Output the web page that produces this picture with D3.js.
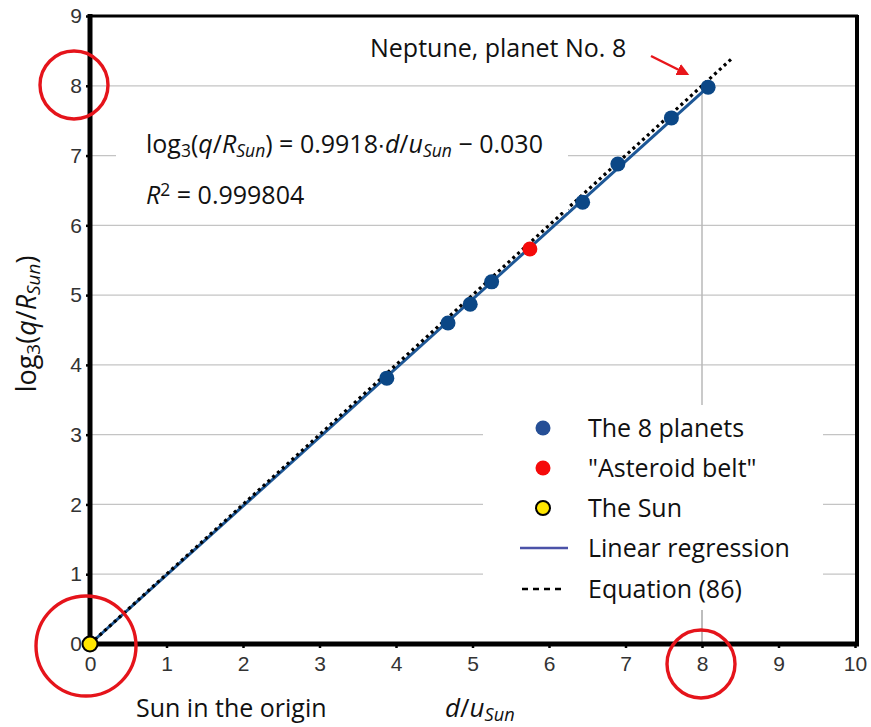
<!DOCTYPE html>
<html><head><meta charset="utf-8">
<script src="https://cdn.jsdelivr.net/npm/d3@7"></script>
<style>body{margin:0;background:#fff}svg{display:block}</style>
</head><body>
<script>
const planetX = [3.88, 4.68, 4.97, 5.25, 6.44, 6.90, 7.60, 8.08];
const planetY = [3.81, 4.60, 4.87, 5.19, 6.33, 6.88, 7.54, 7.98];
const asteroidX = [5.75];
const asteroidY = [5.66];
const sunX = [0];
const sunY = [0];
const regSlope = 0.9918, regIntercept = -0.030;
const eqLineX = [0, 8.40];
const xTicks = [0,1,2,3,4,5,6,7,8,9,10];
const yTicks = [0,1,2,3,4,5,6,7,8,9];
const legendLabels = ["The 8 planets", "\"Asteroid belt\"", "The Sun", "Linear regression", "Equation (86)"];

const W = 871, H = 727;
const svg = d3.select("body").append("svg").attr("width", W).attr("height", H);
const x = d3.scaleLinear().domain([0, 10]).range([90, 855]);
const y = d3.scaleLinear().domain([0, 9]).range([644, 16]);
const textFont = "'Open Sans', 'Noto Sans', sans-serif";
const tickFont = "'Liberation Sans', Arial, sans-serif";
const FS = 25;

// gridlines
svg.append("g").selectAll("line").data(yTicks.slice(1)).join("line")
  .attr("x1", x(0)).attr("x2", 857).attr("y1", d => y(d)).attr("y2", d => y(d))
  .attr("stroke", "#c4c4c4").attr("stroke-width", 1.3);
// drop line at Neptune
svg.append("line").attr("x1", x(8)).attr("x2", x(8)).attr("y1", y(planetY[7])).attr("y2", y(0))
  .attr("stroke", "#b8b8b8").attr("stroke-width", 1.5);

// regression
svg.append("line").attr("x1", x(0)).attr("y1", y(0))
  .attr("x2", x(planetX[7])).attr("y2", y(regSlope*planetX[7] + regIntercept))
  .attr("stroke", "#1d5796").attr("stroke-width", 3);
// equation line
svg.append("line").attr("x1", x(eqLineX[0])).attr("y1", y(eqLineX[0]))
  .attr("x2", x(eqLineX[1])).attr("y2", y(eqLineX[1]))
  .attr("stroke", "#000").attr("stroke-width", 3.2).attr("stroke-dasharray", "3,3.5");

// white boxes behind equation text & legend
svg.append("rect").attr("x", 116).attr("y", 112).attr("width", 452).attr("height", 100).attr("fill", "#fff");
svg.append("rect").attr("x", 483).attr("y", 405).attr("width", 340).attr("height", 205).attr("fill", "#fff");
svg.append("line").attr("x1", x(8)).attr("x2", x(8)).attr("y1", 610).attr("y2", y(0))
  .attr("stroke", "#b8b8b8").attr("stroke-width", 1.5);

// points
svg.append("g").selectAll("circle").data(planetX.map((d,i)=>[d, planetY[i]])).join("circle")
  .attr("cx", d => x(d[0])).attr("cy", d => y(d[1])).attr("r", 7.5).attr("fill", "#0b4786");
svg.append("g").selectAll("circle").data(asteroidX.map((d,i)=>[d, asteroidY[i]])).join("circle")
  .attr("cx", d => x(d[0])).attr("cy", d => y(d[1])).attr("r", 7.5).attr("fill", "#f50a0a");

// axes
const ya = svg.append("g").attr("transform", `translate(${x(0)},0)`)
  .call(d3.axisLeft(y).tickValues(yTicks).tickSize(4).tickPadding(4).tickFormat(d3.format("d")));
const xa = svg.append("g").attr("transform", `translate(0,${y(0)})`)
  .call(d3.axisBottom(x).tickValues(xTicks).tickSize(4).tickPadding(8).tickFormat(d3.format("d")));
[ya, xa].forEach(a => {
  a.select(".domain").remove();
  a.selectAll(".tick line").attr("stroke", "#000").attr("stroke-width", 2.5);
  a.selectAll(".tick text").attr("font-family", tickFont).attr("font-size", 21).attr("fill", "#333");
});
// frame
svg.append("line").attr("x1", x(0)).attr("x2", 858).attr("y1", 16).attr("y2", 16).attr("stroke", "#000").attr("stroke-width", 3);
svg.append("line").attr("x1", 857).attr("x2", 857).attr("y1", 15).attr("y2", 645).attr("stroke", "#000").attr("stroke-width", 4);
svg.append("line").attr("x1", x(0)).attr("x2", x(0)).attr("y1", 14).attr("y2", 646).attr("stroke", "#000").attr("stroke-width", 5);
svg.append("line").attr("x1", x(0)).attr("x2", 859).attr("y1", y(0)).attr("y2", y(0)).attr("stroke", "#000").attr("stroke-width", 5);

// sun
svg.append("g").selectAll("circle").data(sunX.map((d,i)=>[d, sunY[i]])).join("circle")
  .attr("cx", d => x(d[0])).attr("cy", d => y(d[1])).attr("r", 7.5)
  .attr("fill", "#ffe600").attr("stroke", "#000").attr("stroke-width", 2);

// rich text helper
function rich(g, parts, size) {
  const t = g.append("text").attr("font-family", textFont).attr("font-size", size).attr("fill", "#111");
  parts.forEach(p => {
    const s = t.append("tspan").text(p.t);
    if (p.i) s.attr("font-style", "italic");
    if (p.sub) s.attr("font-size", size*0.7).attr("baseline-shift", "-20%");
    if (p.sup) s.attr("font-size", size*0.7).attr("baseline-shift", "45%");
  });
  return t;
}
rich(svg, [{t:"log"},{t:"3",sub:1},{t:"("},{t:"q",i:1},{t:"/"},{t:"R",i:1},{t:"Sun",i:1,sub:1},
  {t:") = 0.9918\u2219"},{t:"d",i:1},{t:"/"},{t:"u",i:1},{t:"Sun",i:1,sub:1},{t:" − 0.030"}], FS)
  .attr("x", 146).attr("y", 153);
rich(svg, [{t:"R",i:1},{t:"2",sup:1},{t:" = 0.999804"}], FS).attr("x", 146).attr("y", 204);

// Neptune annotation
svg.append("text").attr("x", 370).attr("y", 57).attr("font-family", textFont).attr("font-size", FS)
  .attr("fill", "#111").text("Neptune, planet No. 8");
svg.append("defs").append("marker").attr("id", "ah").attr("viewBox", "0 0 10 10").attr("refX", 8).attr("refY", 5)
  .attr("markerWidth", 5).attr("markerHeight", 5).attr("markerUnits", "strokeWidth").attr("orient", "auto")
  .append("path").attr("d", "M0,0 L10,5 L0,10 z").attr("fill", "#e8161b");
svg.append("line").attr("x1", 651).attr("y1", 56).attr("x2", 687).attr("y2", 74)
  .attr("stroke", "#e8161b").attr("stroke-width", 2.5).attr("marker-end", "url(#ah)");

// legend
const lg = svg.append("g");
const ly = [428, 468, 508, 548, 589];
lg.append("circle").attr("cx", 543).attr("cy", ly[0]).attr("r", 7.5).attr("fill", "#264f96");
lg.append("circle").attr("cx", 543).attr("cy", ly[1]).attr("r", 7.5).attr("fill", "#f50a0a");
lg.append("circle").attr("cx", 543).attr("cy", ly[2]).attr("r", 7).attr("fill", "#ffe600").attr("stroke", "#000").attr("stroke-width", 2);
lg.append("line").attr("x1", 520).attr("x2", 568).attr("y1", ly[3]).attr("y2", ly[3]).attr("stroke", "#4b52a8").attr("stroke-width", 2.5);
lg.append("line").attr("x1", 522).attr("x2", 566).attr("y1", ly[4]).attr("y2", ly[4]).attr("stroke", "#000").attr("stroke-width", 2.5).attr("stroke-dasharray", "6,5");
lg.selectAll("text").data(legendLabels).join("text")
  .attr("x", 588).attr("y", (d,i) => ly[i]).attr("dy", "0.35em")
  .attr("font-family", textFont).attr("font-size", FS).attr("fill", "#111").text(d => d);

// axis labels
rich(svg, [{t:"log"},{t:"3",sub:1},{t:"("},{t:"q",i:1},{t:"/"},{t:"R",i:1},{t:"Sun",i:1,sub:1},{t:")"}], 27)
  .attr("text-anchor", "middle").attr("transform", "translate(36,324) rotate(-90)");
rich(svg, [{t:"d",i:1},{t:"/"},{t:"u",i:1},{t:"Sun",i:1,sub:1}], 26).attr("x", 445).attr("y", 717);
svg.append("text").attr("x", 136).attr("y", 717).attr("font-family", textFont).attr("font-size", FS)
  .attr("fill", "#111").text("Sun in the origin");

// red highlight circles
const hl = [[74, 85, 34], [86, 646, 50], [701, 664, 34]];
svg.append("g").selectAll("circle").data(hl).join("circle")
  .attr("cx", d => d[0]).attr("cy", d => d[1]).attr("r", d => d[2])
  .attr("fill", "none").attr("stroke", "#e5141b").attr("stroke-width", 3.4);
</script>
</body></html>
